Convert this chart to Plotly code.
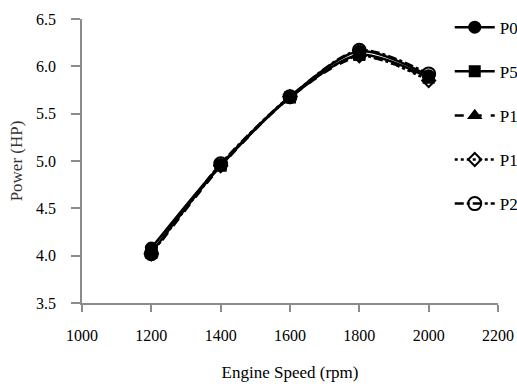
import plotly.graph_objects as go

engine_speed = [1200, 1400, 1600, 1800, 2000]
series_names = ["P0", "P5", "P10", "P15", "P20"]
p0 = [4.08, 4.96, 5.68, 6.16, 5.90]
p5 = [4.03, 4.95, 5.67, 6.12, 5.88]
p10 = [4.01, 4.94, 5.67, 6.10, 5.87]
p15 = [4.02, 4.95, 5.68, 6.11, 5.85]
p20 = [4.02, 4.97, 5.68, 6.17, 5.92]
x_ticks = [1000, 1200, 1400, 1600, 1800, 2000, 2200]
y_ticks = [3.5, 4.0, 4.5, 5.0, 5.5, 6.0, 6.5]

values = [p0, p5, p10, p15, p20]
dashes = ["solid", "solid", "dash", "dot", "dashdot"]
symbols = ["circle", "square", "triangle-up", "diamond-open", "circle-open"]
sizes = [11, 10, 10, 10, 13]

font_family = "Liberation Serif, Times New Roman, serif"

fig = go.Figure()
for name, vals, dash, sym, sz in zip(series_names, values, dashes, symbols, sizes):
    fig.add_trace(go.Scatter(
        x=engine_speed, y=vals, name=name, legendgroup=name,
        mode="lines+markers",
        line=dict(color="black", width=2.5, dash=dash, shape="spline", smoothing=0.8),
        marker=dict(symbol=sym, size=sz, color="black",
                    line=dict(color="black", width=2)),
    ))

fig.update_layout(
    width=517, height=388,
    margin=dict(l=82, r=19, t=19, b=85, autoexpand=False),
    paper_bgcolor="white", plot_bgcolor="white",
    font=dict(family=font_family, size=16, color="black"),
    showlegend=True,
    legend=dict(x=0.884, xanchor="left", y=1.033, yanchor="top",
                bgcolor="rgba(0,0,0,0)", traceorder="grouped",
                tracegroupgap=19, itemwidth=40, maxheight=1000,
                font=dict(family=font_family, size=17, color="black")),
)
fig.update_xaxes(
    range=[1000, 2200], tickvals=x_ticks, ticktext=[str(v) for v in x_ticks],
    showline=True, linecolor="#8c8c8c", linewidth=1.5,
    ticks="outside", ticklen=7, tickcolor="#8c8c8c", tickwidth=1.5,
    showgrid=False, zeroline=False, ticklabelstandoff=10,
    title=dict(text="Engine Speed (rpm)", standoff=23,
               font=dict(family=font_family, size=17, color="black")),
)
fig.update_yaxes(
    range=[3.5, 6.5], tickvals=y_ticks, ticktext=["%.1f" % v for v in y_ticks],
    showline=True, linecolor="#8c8c8c", linewidth=1.5,
    ticks="outside", ticklen=9, tickcolor="#8c8c8c", tickwidth=1.5,
    showgrid=False, zeroline=False, ticklabelstandoff=12,
    title=dict(text="Power (HP)", standoff=9,
               font=dict(family=font_family, size=17, color="#333333")),
)

# remove the default 8px page margin so the figure fills the window exactly
fig.write_html("out.html",
               config={"displayModeBar": False},
               post_script="document.body.style.margin='0';document.body.style.overflow='hidden';")
